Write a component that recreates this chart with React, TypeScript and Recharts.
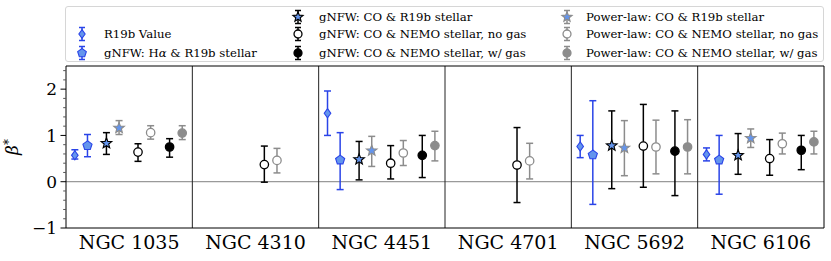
import React from 'react';
import { ComposedChart, Scatter, XAxis, YAxis, ErrorBar, ReferenceLine, Legend } from 'recharts';

const galaxies = ['NGC 1035', 'NGC 4310', 'NGC 4451', 'NGC 4701', 'NGC 5692', 'NGC 6106'];

// beta* values, lower and upper error magnitudes per galaxy (null = not measured)
const r19bValue = [0.57, null, 1.48, null, 0.76, 0.59];
const r19bMinus = [0.08, null, 0.48, null, 0.24, 0.14];
const r19bPlus = [0.12, null, 0.48, null, 0.24, 0.14];

const gnfwHaValue = [0.78, null, 0.47, null, 0.58, 0.47];
const gnfwHaMinus = [0.24, null, 0.64, null, 1.07, 0.74];
const gnfwHaPlus = [0.24, null, 0.59, null, 1.17, 0.53];

const gnfwCoR19bValue = [0.83, null, 0.48, null, 0.78, 0.57];
const gnfwCoR19bMinus = [0.24, null, 0.44, null, 0.93, 0.41];
const gnfwCoR19bPlus = [0.23, null, 0.39, null, 0.75, 0.47];

const plCoR19bValue = [1.16, null, 0.67, null, 0.73, 0.94];
const plCoR19bMinus = [0.14, null, 0.34, null, 0.6, 0.2];
const plCoR19bPlus = [0.16, null, 0.31, null, 0.59, 0.2];

const gnfwNoGasValue = [0.64, 0.37, 0.4, 0.36, 0.77, 0.5];
const gnfwNoGasMinus = [0.2, 0.38, 0.34, 0.81, 0.89, 0.36];
const gnfwNoGasPlus = [0.18, 0.4, 0.38, 0.81, 0.9, 0.41];

const plNoGasValue = [1.06, 0.46, 0.62, 0.45, 0.75, 0.82];
const plNoGasMinus = [0.14, 0.27, 0.27, 0.39, 0.58, 0.22];
const plNoGasPlus = [0.15, 0.26, 0.27, 0.38, 0.58, 0.23];

const gnfwGasValue = [0.75, null, 0.57, null, 0.66, 0.68];
const gnfwGasMinus = [0.22, null, 0.48, null, 0.96, 0.42];
const gnfwGasPlus = [0.18, null, 0.43, null, 0.87, 0.32];

const plGasValue = [1.05, null, 0.78, null, 0.75, 0.86];
const plGasMinus = [0.14, null, 0.33, null, 0.58, 0.26];
const plGasPlus = [0.16, null, 0.31, null, 0.59, 0.23];

const yTicks = [-1, -0.8, -0.6, -0.4, -0.2, 0, 0.2, 0.4, 0.6, 0.8, 1, 1.2, 1.4, 1.6, 1.8, 2, 2.2, 2.4];

// layout: horizontal slot offset of each series within a galaxy panel
const slotOffsets = [0.07, 0.17, 0.32, 0.42, 0.57, 0.67, 0.82, 0.92];

const BLUE = '#2a44e8';
const CORN = '#6495ed';
const GREY = '#8c8c8c';
const FONT = 'DejaVu Serif, serif';

type Kind = 'diamond' | 'pentagon' | 'star' | 'circle';

const series = [
  { name: 'R19b Value', values: r19bValue, minus: r19bMinus, plus: r19bPlus, kind: 'diamond', edge: BLUE, fill: CORN, err: BLUE },
  { name: 'gNFW: H\u03b1 & R19b stellar', values: gnfwHaValue, minus: gnfwHaMinus, plus: gnfwHaPlus, kind: 'pentagon', edge: BLUE, fill: CORN, err: BLUE },
  { name: 'gNFW: CO & R19b stellar', values: gnfwCoR19bValue, minus: gnfwCoR19bMinus, plus: gnfwCoR19bPlus, kind: 'star', edge: '#000', fill: CORN, err: '#000' },
  { name: 'Power-law: CO & R19b stellar', values: plCoR19bValue, minus: plCoR19bMinus, plus: plCoR19bPlus, kind: 'star', edge: GREY, fill: CORN, err: GREY },
  { name: 'gNFW: CO & NEMO stellar, no gas', values: gnfwNoGasValue, minus: gnfwNoGasMinus, plus: gnfwNoGasPlus, kind: 'circle', edge: '#000', fill: '#fff', err: '#000' },
  { name: 'Power-law: CO & NEMO stellar, no gas', values: plNoGasValue, minus: plNoGasMinus, plus: plNoGasPlus, kind: 'circle', edge: GREY, fill: '#fff', err: GREY },
  { name: 'gNFW: CO & NEMO stellar, w/ gas', values: gnfwGasValue, minus: gnfwGasMinus, plus: gnfwGasPlus, kind: 'circle', edge: '#000', fill: '#000', err: '#000' },
  { name: 'Power-law: CO & NEMO stellar, w/ gas', values: plGasValue, minus: plGasMinus, plus: plGasPlus, kind: 'circle', edge: GREY, fill: GREY, err: GREY },
];

function polyPoints(cx: number, cy: number, n: number, rOuter: number, rInner?: number) {
  const pts: string[] = [];
  const total = rInner ? n * 2 : n;
  for (let i = 0; i < total; i++) {
    const r = rInner && i % 2 === 1 ? rInner : rOuter;
    const a = -Math.PI / 2 + (i * 2 * Math.PI) / total;
    pts.push(`${cx + r * Math.cos(a)},${cy + r * Math.sin(a)}`);
  }
  return pts.join(' ');
}

function Marker({ kind, cx, cy, edge, fill, scale = 1 }: { kind: Kind; cx: number; cy: number; edge: string; fill: string; scale?: number }) {
  if (cx == null || cy == null) return null;
  const sw = 1.1;
  if (kind === 'diamond') {
    const w = 3.3 * scale, h = 4.6 * scale;
    return <polygon points={`${cx},${cy - h} ${cx + w},${cy} ${cx},${cy + h} ${cx - w},${cy}`} fill={fill} stroke={edge} strokeWidth={sw} />;
  }
  if (kind === 'pentagon') {
    return <polygon points={polyPoints(cx, cy, 5, 4.8 * scale)} fill={fill} stroke={edge} strokeWidth={sw} />;
  }
  if (kind === 'star') {
    return <polygon points={polyPoints(cx, cy, 5, 5.6 * scale, 2.4 * scale)} fill={fill} stroke={edge} strokeWidth={sw} strokeLinejoin="miter" />;
  }
  return <circle cx={cx} cy={cy} r={4.2 * scale} fill={fill} stroke={edge} strokeWidth={1.3} />;
}

const seriesData = series.map((s, i) =>
  s.values
    .map((v, j) => (v == null ? null : { x: j + slotOffsets[i], y: v, err: [s.minus[j], s.plus[j]] }))
    .filter((d) => d !== null)
);

const YTick = (props: any) => {
  const { x, y, payload } = props;
  const v = payload.value as number;
  const major = Math.abs(v - Math.round(v)) < 1e-6;
  return (
    <g>
      <line x1={x - (major ? 5.5 : 2.8)} x2={x} y1={y} y2={y} stroke={major ? '#000' : '#555'} strokeWidth={1} />
      {major && (
        <text x={x - 9} y={y} dy="0.36em" textAnchor="end" fontSize={17} fontFamily={FONT} fill="#000">
          {v < 0 ? '\u2212' + Math.abs(v) : String(v)}
        </text>
      )}
    </g>
  );
};

const LegendGlyph = ({ s }: { s: (typeof series)[number] }) => (
  <svg width={16} height={18} style={{ position: 'absolute', left: -8, top: -9, overflow: 'visible' }}>
    <line x1={8} x2={8} y1={2.5} y2={15.5} stroke={s.err} strokeWidth={1.5} />
    <line x1={5} x2={11} y1={2.5} y2={2.5} stroke={s.err} strokeWidth={1.5} />
    <line x1={5} x2={11} y1={15.5} y2={15.5} stroke={s.err} strokeWidth={1.5} />
    <Marker kind={s.kind as Kind} cx={8} cy={9} edge={s.edge} fill={s.fill} scale={0.95} />
  </svg>
);

// legend cell placement (relative to legend box): [markerX, textX, rowY]
const legendCells: [number, number, number][] = [
  [16, 38, 27],
  [16, 38, 45.5],
  [232, 253, 9.5],
  [232, 253, 27],
  [232, 253, 45.5],
  [501, 520, 9.5],
  [501, 520, 27],
  [501, 520, 45.5],
];
const legendOrder = [0, 1, 2, 4, 6, 3, 5, 7];

const renderLegendLabel = (name: string) => {
  if (name.includes('\u03b1')) {
    const [a, b] = name.split('\u03b1');
    return (
      <>
        {a}
        <i>{'\u03b1'}</i>
        {b}
      </>
    );
  }
  return name;
};

const LegendBox = () => (
  <div
    style={{
      position: 'relative',
      width: 759,
      height: 56,
      boxSizing: 'border-box',
      border: '1px solid #d6d6d6',
      borderRadius: 3,
      background: '#fff',
      fontFamily: FONT,
      fontSize: 11.7,
      color: '#000',
    }}
  >
    {legendOrder.map((si, k) => {
      const s = series[si];
      const [mx, tx, ry] = legendCells[k];
      return (
        <React.Fragment key={s.name}>
          <div style={{ position: 'absolute', left: mx, top: ry }}>
            <LegendGlyph s={s} />
          </div>
          <div style={{ position: 'absolute', left: tx, top: ry - 8, lineHeight: '16px', whiteSpace: 'nowrap' }}>
            {renderLegendLabel(s.name)}
          </div>
        </React.Fragment>
      );
    })}
  </div>
);

export default function App() {
  return (
    <div style={{ position: 'absolute', left: 0, top: 0, width: 831, height: 261, background: '#fff' }}>
      <ComposedChart width={831} height={261} margin={{ top: 66, right: 7, bottom: 0, left: 16 }}>
        <XAxis
          type="number"
          dataKey="x"
          domain={[0, 6]}
          ticks={[0.5, 1.5, 2.5, 3.5, 4.5, 5.5]}
          tickFormatter={(v: number) => galaxies[Math.floor(v)]}
          tickLine={false}
          axisLine={false}
          height={33}
          tickSize={6}
          tickMargin={2}
          tick={{ fontSize: 19, fontFamily: FONT, fill: '#000' }}
          interval={0}
          allowDataOverflow
        />
        <YAxis
          type="number"
          dataKey="y"
          domain={[-1, 2.5]}
          ticks={yTicks}
          width={50}
          tickSize={0}
          tickMargin={0}
          tickLine={false}
          axisLine={false}
          tick={<YTick />}
          interval={0}
          allowDataOverflow
        />
        <Legend
          layout="horizontal"
          verticalAlign="middle"
          align="center"
          wrapperStyle={{ position: 'absolute', left: 65, top: 6, width: 759, height: 56 }}
          content={() => <LegendBox />}
        />
        <ReferenceLine y={0} stroke="#808080" strokeWidth={1} />
        {[1, 2, 3, 4, 5].map((x) => (
          <ReferenceLine key={x} x={x} stroke="#222" strokeWidth={1} />
        ))}
        <ReferenceLine x={0} stroke="#000" strokeWidth={1} />
        <ReferenceLine x={6} stroke="#000" strokeWidth={1} />
        <ReferenceLine y={2.5} stroke="#000" strokeWidth={1} />
        <ReferenceLine y={-1} stroke="#000" strokeWidth={1} />
        {series.map((s, i) => (
          <Scatter
            key={s.name}
            name={s.name}
            data={seriesData[i] as any[]}
            isAnimationActive={false}
            shape={(p: any) => <Marker kind={s.kind as Kind} cx={p.cx} cy={p.cy} edge={s.edge} fill={s.fill} />}
          >
            <ErrorBar dataKey="err" direction="y" width={3.5} stroke={s.err} strokeWidth={1.5} isAnimationActive={false} />
          </Scatter>
        ))}
      </ComposedChart>
      <svg width={30} height={261} style={{ position: 'absolute', left: 0, top: 0, pointerEvents: 'none' }}>
        <text transform="translate(18,147) rotate(-90)" textAnchor="middle" fontFamily={FONT} fontSize={17} fill="#000">
          <tspan fontStyle="italic">{'\u03b2'}</tspan>
          <tspan dy={-5} fontSize={12}>*</tspan>
        </text>
      </svg>
    </div>
  );
}
